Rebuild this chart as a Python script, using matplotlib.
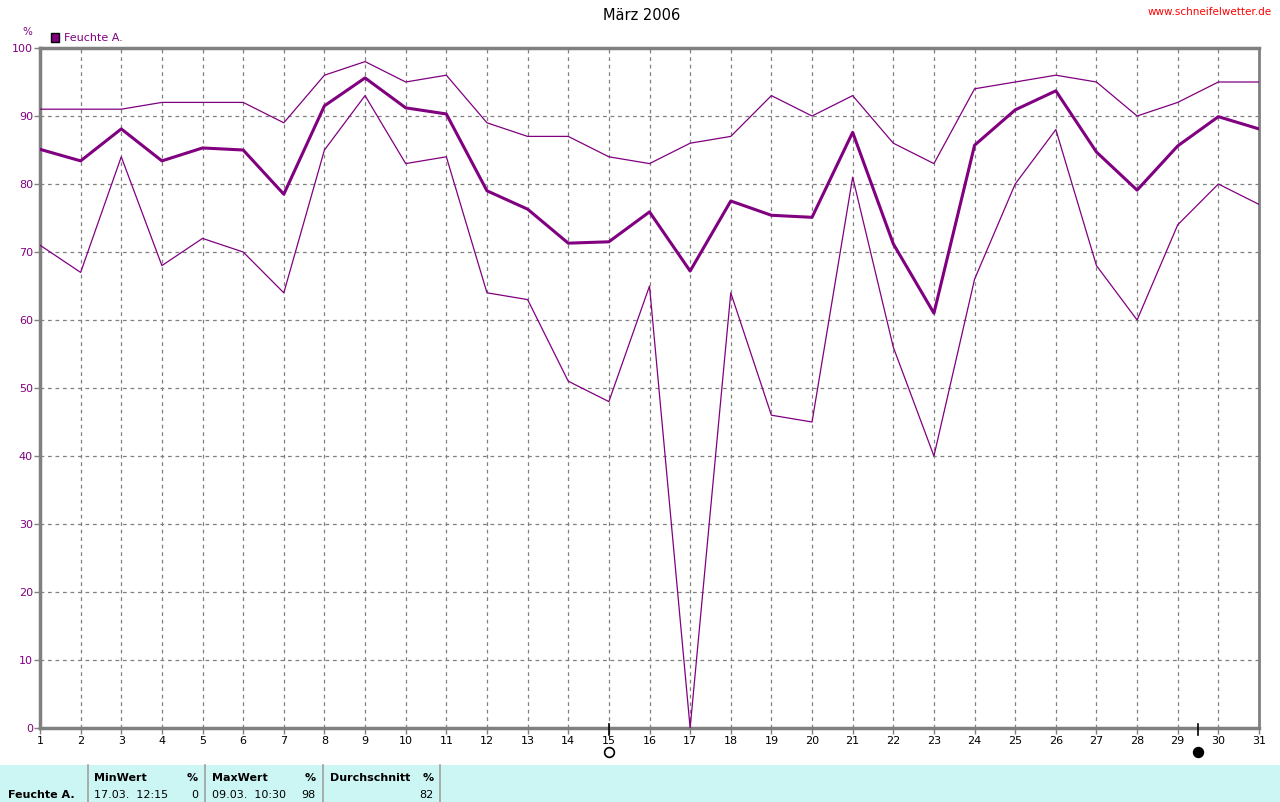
import matplotlib
matplotlib.use("Agg")
import matplotlib.pyplot as plt
from matplotlib.lines import Line2D
from matplotlib.patches import Rectangle

days = list(range(1, 32))
avg_vals = [85.1, 83.4, 88.1, 83.4, 85.3, 85.0, 78.5, 91.5, 95.6, 91.2, 90.3,
            79.0, 76.3, 71.3, 71.5, 75.9, 67.2, 77.5, 75.4, 75.1, 87.6, 71.2,
            61.0, 85.7, 90.9, 93.7, 84.7, 79.1, 85.6, 89.9, 88.1]
max_vals = [91, 91, 91, 92, 92, 92, 89, 96, 98, 95, 96, 89, 87, 87, 84, 83,
            86, 87, 93, 90, 93, 86, 83, 94, 95, 96, 95, 90, 92, 95, 95]
min_vals = [71, 67, 84, 68, 72, 70, 64, 85, 93, 83, 84, 64, 63, 51, 48, 65,
            0, 64, 46, 45, 81, 56, 40, 66, 80, 88, 68, 60, 74, 80, 77]
y_ticks = [0, 10, 20, 30, 40, 50, 60, 70, 80, 90, 100]
full_moon_day = 15
new_moon_day = 29.5

title = "März 2006"
series_name = "Feuchte A."
unit = "%"
url = "www.schneifelwetter.de"
table_headers = ["MinWert", "MaxWert", "Durchschnitt"]
table_times = ["17.03.  12:15", "09.03.  10:30", ""]
table_values = ["0", "98", "82"]

purple = "#800080"
gray = "#808080"
W, H = 1280, 802

fig = plt.figure(figsize=(W / 100, H / 100), dpi=100)
fig.patch.set_facecolor("white")
plt.rcParams['font.family'] = ['DejaVu Sans']

def fx(px):
    return px / W

def fy(py):
    return 1 - py / H

ax = fig.add_axes([fx(40), fy(728), fx(1259) - fx(40), fy(48) - fy(728)])
ax.set_xlim(1, 31)
ax.set_ylim(0, 100)

ax.plot(days, max_vals, color=purple, lw=0.9, zorder=3)
ax.plot(days, min_vals, color=purple, lw=0.9, zorder=3)
ax.plot(days, avg_vals, color=purple, lw=2.2, zorder=4)

ax.set_xticks(days)
ax.set_xticklabels([str(d) for d in days], fontsize=8, color="black")
ax.set_yticks(y_ticks)
ax.set_yticklabels([str(v) for v in y_ticks], fontsize=8, color=purple)
ax.tick_params(axis="x", length=4, width=1, color=gray, pad=2, direction="out")
ax.tick_params(axis="y", length=4, width=1, color=gray, pad=1, direction="out")
ax.grid(True, color=gray, linestyle=(0, (3, 3)), lw=0.9)
for s in ax.spines.values():
    s.set_color(gray)
    s.set_linewidth(2.5)
ax.spines["right"].set_linewidth(2.0)

# moon markers
for d, filled in [(full_moon_day, False), (new_moon_day, True)]:
    ax.plot([d, d], [0.6, -1.1], color="black", lw=1.2, zorder=5, clip_on=False)
    ax.plot([d], [-3.6], marker="o", markersize=7,
            markerfacecolor="black" if filled else "white",
            markeredgecolor="black", markeredgewidth=1.2, clip_on=False, zorder=5)

# title, url, unit, legend
fig.text(fx(642), fy(15), title, ha="center", va="center", fontsize=10.5)
fig.text(fx(1272), fy(12), url, ha="right", va="center", fontsize=7.5, color="red")
fig.text(fx(27), fy(32), unit, ha="center", va="center", fontsize=7.5, color=purple)
fig.patches.append(Rectangle((fx(51), fy(42)), fx(8), fy(33) - fy(42),
                             transform=fig.transFigure, facecolor=purple,
                             edgecolor="black", lw=1))
fig.text(fx(64), fy(38), series_name, ha="left", va="center", fontsize=8, color=purple)

# bottom table
fig.patches.append(Rectangle((0, 0), 1, fy(765), transform=fig.transFigure,
                             facecolor="#ccf6f4", edgecolor="none", zorder=0))
for xs in [88, 205, 323, 440]:
    fig.add_artist(Line2D([fx(xs), fx(xs)], [0, fy(765)], color="#a0a0a0", lw=1.2))
fig.text(fx(8), fy(795), series_name, ha="left", va="center", fontsize=8, fontweight="bold")
col_left = [94, 212, 330]
col_right = [198, 316, 434]
for i in range(3):
    fig.text(fx(col_left[i]), fy(778), table_headers[i], ha="left", va="center",
             fontsize=8, fontweight="bold")
    fig.text(fx(col_right[i]), fy(778), unit, ha="right", va="center",
             fontsize=8, fontweight="bold")
    if table_times[i]:
        fig.text(fx(col_left[i]), fy(795), table_times[i], ha="left", va="center", fontsize=8)
    fig.text(fx(col_right[i]), fy(795), table_values[i], ha="right", va="center", fontsize=8)

fig.savefig("out.png", dpi=100)
